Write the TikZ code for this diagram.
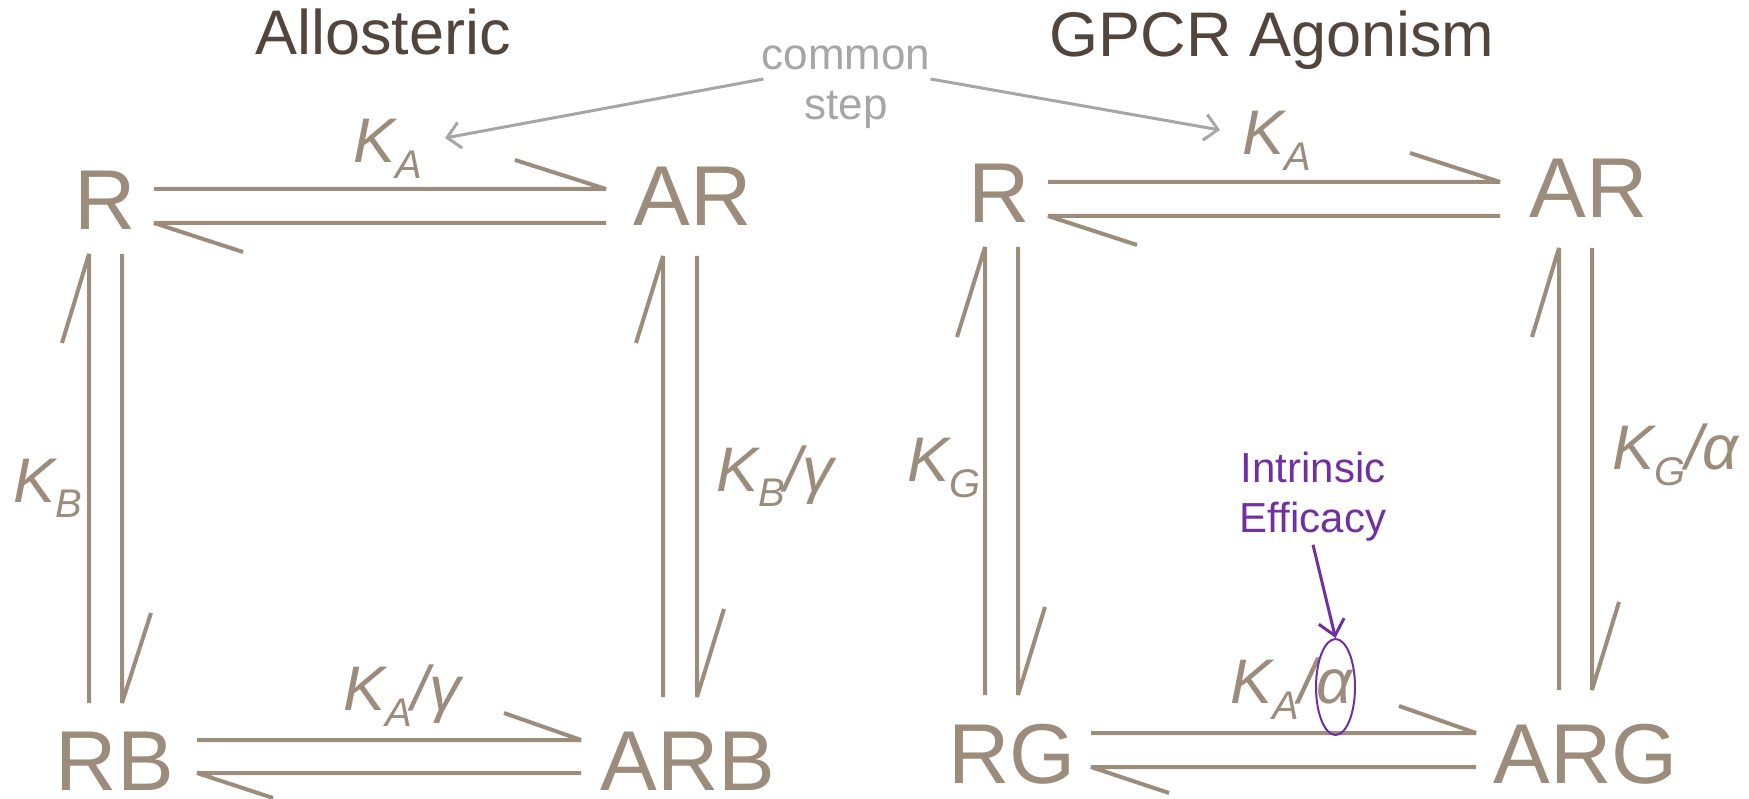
\documentclass[tikz,border=0pt]{standalone}
\usepackage{fontspec}
\setmainfont{Liberation Sans}
\usetikzlibrary{calc,arrows.meta,shapes.geometric}
\definecolor{mytan}{RGB}{156,140,124}
\definecolor{ttlcol}{RGB}{82,70,60}
\definecolor{cgray}{RGB}{166,166,166}
\definecolor{purp}{RGB}{112,48,160}
\newcommand{\Kl}[2]{\fontsize{63}{63}\selectfont\itshape K\raisebox{-16pt}{\fontsize{40}{40}\selectfont #1}#2}
\begin{document}
\begin{tikzpicture}[x=1pt,y=-1pt,
 species/.style={inner sep=0pt, outer sep=0pt, anchor=base, text=mytan, font=\fontsize{85}{85}\selectfont},
 ttlbox/.style={inner sep=0pt, anchor=base, text=ttlcol, font=\fontsize{63}{63}\selectfont},
 klab/.style={inner sep=0pt, outer sep=0pt, anchor=base west, text=mytan},
 eq/.style={draw=mytan, line width=4pt, line join=bevel},
 cmn/.style={draw=cgray, line width=3pt, -{Straight Barb[length=13pt,width=26pt]}},
 iearr/.style={draw=purp, line width=3pt, -{Straight Barb[length=15pt,width=26pt]}}]
\useasboundingbox (0,0) rectangle (1749,799);

% titles
\node[ttlbox] (t1) at (383,55) {Allosteric};
\node[ttlbox] (t2) at (1272,57) {GPCR Agonism};

% species
\node[species] (R1) at (105,230) {R};
\node[species] (AR1) at (693,226) {AR};
\node[species] (RB1) at (115,790) {RB};
\node[species] (ARB1) at (688,790) {ARB};
\node[species] (R2) at (999,223) {R};
\node[species] (AR2) at (1589,218) {AR};
\node[species] (RG) at (1012,783) {RG};
\node[species] (ARG) at (1586,783) {ARG};

% constants
\node[klab] (KA1) at (353,163) {\Kl{A}{}};
\node[klab] (KB1) at (13,502) {\Kl{B}{}};
\node[klab] (KBg) at (716,491) {\Kl{B}{/γ}};
\node[klab] (KAg) at (343,710) {\Kl{A}{/γ}};
\node[klab] (KA2) at (1242,155) {\Kl{A}{}};
\node[klab] (KG1) at (907,482) {\Kl{G}{}};
\node[klab] (KGa) at (1612,470) {\Kl{G}{/α}};
\node[klab] (KAa) at (1230,703) {\Kl{A}{/α}};

% left square
\draw[eq] ($(R1.base)+(49,-41)$) -- ($(AR1.base)+(-87,-37)$) -- ++(-91,-29);
\draw[eq] ($(AR1.base)+(-87,-3)$) -- ($(R1.base)+(49,-7)$) -- ++(89,29);
\draw[eq] ($(RB1.base)+(-26,-87)$) -- ($(R1.base)+(-16,24)$) -- ++(-27,89);
\draw[eq] ($(R1.base)+(17,24)$) -- ($(RB1.base)+(7,-87)$) -- ++(29,-90);
\draw[eq] ($(ARB1.base)+(-25,-93)$) -- ($(AR1.base)+(-30,30)$) -- ++(-27,87);
\draw[eq] ($(AR1.base)+(4,30)$) -- ($(ARB1.base)+(9,-93)$) -- ++(27,-88);
\draw[eq] ($(RB1.base)+(82,-50)$) -- ($(ARB1.base)+(-107,-50)$) -- ++(-77,-27);
\draw[eq] ($(ARB1.base)+(-107,-17)$) -- ($(RB1.base)+(82,-17)$) -- ++(76,25);

% right square
\draw[eq] ($(R2.base)+(49,-41)$) -- ($(AR2.base)+(-89,-36)$) -- ++(-90,-29);
\draw[eq] ($(AR2.base)+(-89,-2)$) -- ($(R2.base)+(49,-7)$) -- ++(89,29);
\draw[eq] ($(RG.base)+(-27,-88)$) -- ($(R2.base)+(-14,24)$) -- ++(-28,90);
\draw[eq] ($(R2.base)+(19,24)$) -- ($(RG.base)+(6,-88)$) -- ++(27,-88);
\draw[eq] ($(ARG.base)+(-27,-93)$) -- ($(AR2.base)+(-30,30)$) -- ++(-27,89);
\draw[eq] ($(AR2.base)+(3,30)$) -- ($(ARG.base)+(6,-93)$) -- ++(27,-88);
\draw[eq] ($(RG.base)+(79,-50)$) -- ($(ARG.base)+(-110,-50)$) -- ++(-77,-27);
\draw[eq] ($(ARG.base)+(-110,-16)$) -- ($(RG.base)+(79,-16)$) -- ++(78,26);

% common step
\node[align=center, text=cgray, font=\fontsize{44}{50}\selectfont, inner sep=0pt] (cs) at (846,87) {common\\step};
\draw[cmn] ($(cs.west)+(2,-8)$) -- ($(KA1.base west)+(92,-25)$);
\draw[cmn] ($(cs.east)+(0,-8)$) -- ($(KA2.base west)+(-22,-25)$);

% intrinsic efficacy
\node[align=center, text=purp, font=\fontsize{42}{50}\selectfont, inner sep=0pt] (ie) at (1313,497) {Intrinsic\\Efficacy};
\node[ellipse, draw=purp, line width=2pt, minimum width=39pt, minimum height=96pt, inner sep=0pt] (ell) at (1335.5,687) {};
\draw[iearr] ($(ie.south)+(0,3)$) -- (ell.north);
\end{tikzpicture}
\end{document}
